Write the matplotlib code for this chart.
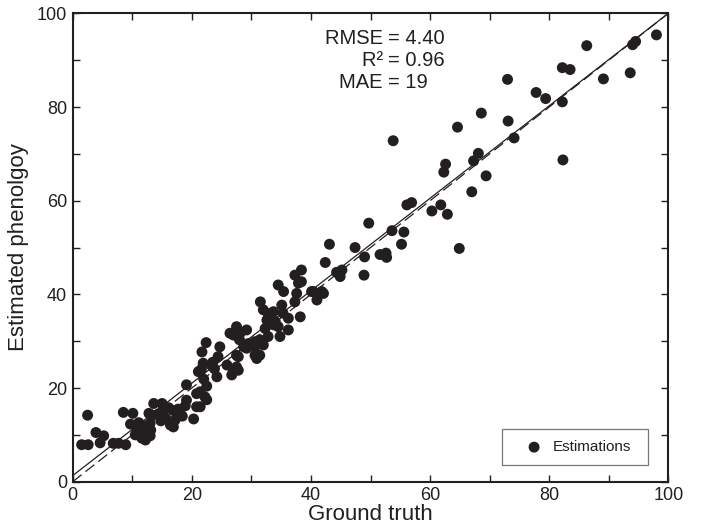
import numpy as np
import matplotlib
matplotlib.use("Agg")
import matplotlib.pyplot as plt
from matplotlib.ticker import MultipleLocator

plt.rcParams['font.family'] = ['Liberation Sans', 'DejaVu Sans']

# Points (ground truth, estimated)
truth = [1.5, 2.6, 2.5, 3.9, 4.6, 5.2, 6.8, 7.7, 8.9,
         8.5, 10.1, 9.7, 10.8, 11.1, 10.5,
         11.6, 12.2, 12.5, 13.0, 12.3, 13.1, 11.8,
         12.8, 13.4, 13.0, 13.6, 15.0,
         14.4, 15.2, 16.1, 16.9, 17.7, 14.8, 15.6, 16.4, 17.2, 16.9, 18.0, 18.9, 18.4,
         19.1, 19.1, 20.3, 20.8, 20.8,
         21.4, 22.2, 21.4, 21.1, 21.9, 21.7, 22.4, 22.5, 22.0, 21.6, 22.5,
         24.7, 24.4, 23.3, 23.8, 24.2, 25.9, 27.8, 26.7, 23.5,
         26.4, 28.1, 27.5, 29.2, 27.0, 28.0, 27.5, 27.8, 29.5, 30.6, 30.6, 29.8,
         28.7, 29.2, 27.5, 27.0, 30.9,
         31.5, 32.0, 32.8, 33.7, 35.1, 35.3, 36.2, 38.2, 32.6, 34.0, 32.3, 33.7,
         34.5, 36.2, 34.8, 32.8, 31.4, 32.0, 30.6, 31.4,
         37.3, 37.9, 34.5, 35.4, 37.6, 37.3, 40.4, 41.8, 41.0, 40.1, 42.1,
         43.1, 42.4, 44.3, 45.2, 44.9, 38.4, 38.4,
         47.4, 49.0, 48.9, 49.7, 51.6, 52.6, 52.7, 53.6, 55.6, 55.2, 53.8,
         56.1, 56.9, 60.3, 61.8, 62.9, 62.6, 62.3, 64.6, 64.9, 67.0, 67.3,
         68.1, 68.6, 69.4, 73.0, 73.1, 74.1, 77.8, 79.4, 82.2, 82.3, 82.2,
         83.5, 86.3, 89.1, 93.6, 94.0, 94.5, 98.0]
estimated = [7.9, 7.9, 14.2, 10.5, 8.3, 9.8, 8.2, 8.2, 7.9,
             14.8, 14.6, 12.3, 11.0, 12.6, 10.0,
             9.3, 8.9, 9.6, 9.8, 10.6, 11.0, 12.0,
             14.6, 14.2, 12.5, 16.7, 16.7,
             14.5, 15.4, 15.8, 15.2, 15.5, 13.0, 13.6, 12.1, 13.2, 11.7, 14.5, 16.2, 14.0,
             20.7, 17.4, 13.4, 16.0, 18.8,
             16.0, 18.1, 19.2, 23.5, 25.3, 27.7, 29.7, 20.4, 21.9, 24.0, 17.5,
             28.8, 26.7, 24.8, 24.1, 22.4, 24.9, 23.8, 22.8, 25.5,
             31.7, 31.7, 33.1, 32.4, 31.3, 30.3, 27.0, 26.7, 29.5, 28.8, 27.0, 29.2,
             28.8, 28.5, 24.5, 23.8, 26.3,
             38.4, 36.7, 35.9, 36.3, 37.7, 36.0, 34.9, 35.2, 34.5, 34.2, 32.7, 33.5,
             33.1, 32.4, 31.0, 31.0, 30.3, 29.2, 29.9, 27.0,
             44.1, 42.4, 42.0, 40.6, 40.2, 38.4, 40.6, 40.6, 38.8, 40.6, 40.2,
             50.7, 46.8, 44.7, 45.2, 43.8, 45.2, 42.7,
             50.0, 48.0, 44.1, 55.2, 48.5, 48.8, 47.9, 53.6, 53.3, 50.7, 72.8,
             59.1, 59.6, 57.8, 59.1, 57.1, 67.8, 66.1, 75.7, 49.8, 61.9, 68.5,
             70.1, 78.7, 65.3, 85.9, 77.0, 73.4, 83.1, 81.8, 81.1, 68.7, 88.4,
             88.0, 93.1, 86.0, 87.3, 93.3, 94.0, 95.4]

# Fitted line
fit_intercept = 1.3
fit_slope = 0.987

stat_names = ['RMSE', 'R²', 'MAE']
stat_values = ['4.40', '0.96', '19']

ink = '#231f20'

fig = plt.figure(figsize=(7.08, 5.29), dpi=100)
ax = fig.add_axes([0.1027, 0.0894, 0.8413, 0.8854])

line_x = np.array([0, 100])
ax.plot(line_x, line_x, color=ink, lw=0.9, ls=(0, (9, 4)), zorder=2)
ax.plot(line_x, fit_intercept + fit_slope * line_x, color=ink, lw=0.9, zorder=2)
ax.scatter(truth, estimated, s=62, color=ink, edgecolors='none', zorder=3,
           label='Estimations')

ax.set_xlim(0, 100)
ax.set_ylim(0, 100)
ax.xaxis.set_major_locator(MultipleLocator(20))
ax.yaxis.set_major_locator(MultipleLocator(20))
ax.xaxis.set_minor_locator(MultipleLocator(10))
ax.yaxis.set_minor_locator(MultipleLocator(10))
ax.tick_params(which='both', direction='in', top=True, right=True,
               length=5, width=1, color=ink, labelsize=13, labelcolor=ink, pad=4)
for sp in ax.spines.values():
    sp.set_linewidth(1.5)
    sp.set_color(ink)

ax.set_xlabel('Ground truth', fontsize=16, color=ink, labelpad=0)
ax.set_ylabel('Estimated phenolgoy', fontsize=16, color=ink, labelpad=6)

for i, (name, val) in enumerate(zip(stat_names, stat_values)):
    yy = 94.7 - i * 4.7
    ax.text(53.0, yy, name + ' ', fontsize=14.5, color=ink, ha='right', va='center')
    ax.text(53.0, yy, '= ' + val, fontsize=14.5, color=ink, ha='left', va='center')

leg = ax.legend(loc='lower right', bbox_to_anchor=(0.965, 0.036), fontsize=11,
                frameon=True, fancybox=False, borderpad=0.7, handletextpad=0.2,
                borderaxespad=0, markerscale=1.0, labelcolor=ink)
leg.get_frame().set_edgecolor('#555555')
leg.get_frame().set_linewidth(0.9)
leg.get_frame().set_boxstyle('square', pad=0)
# stretch legend box to the reference width
leg._legend_box.set_width(124)

fig.savefig('out.png', dpi=100)
